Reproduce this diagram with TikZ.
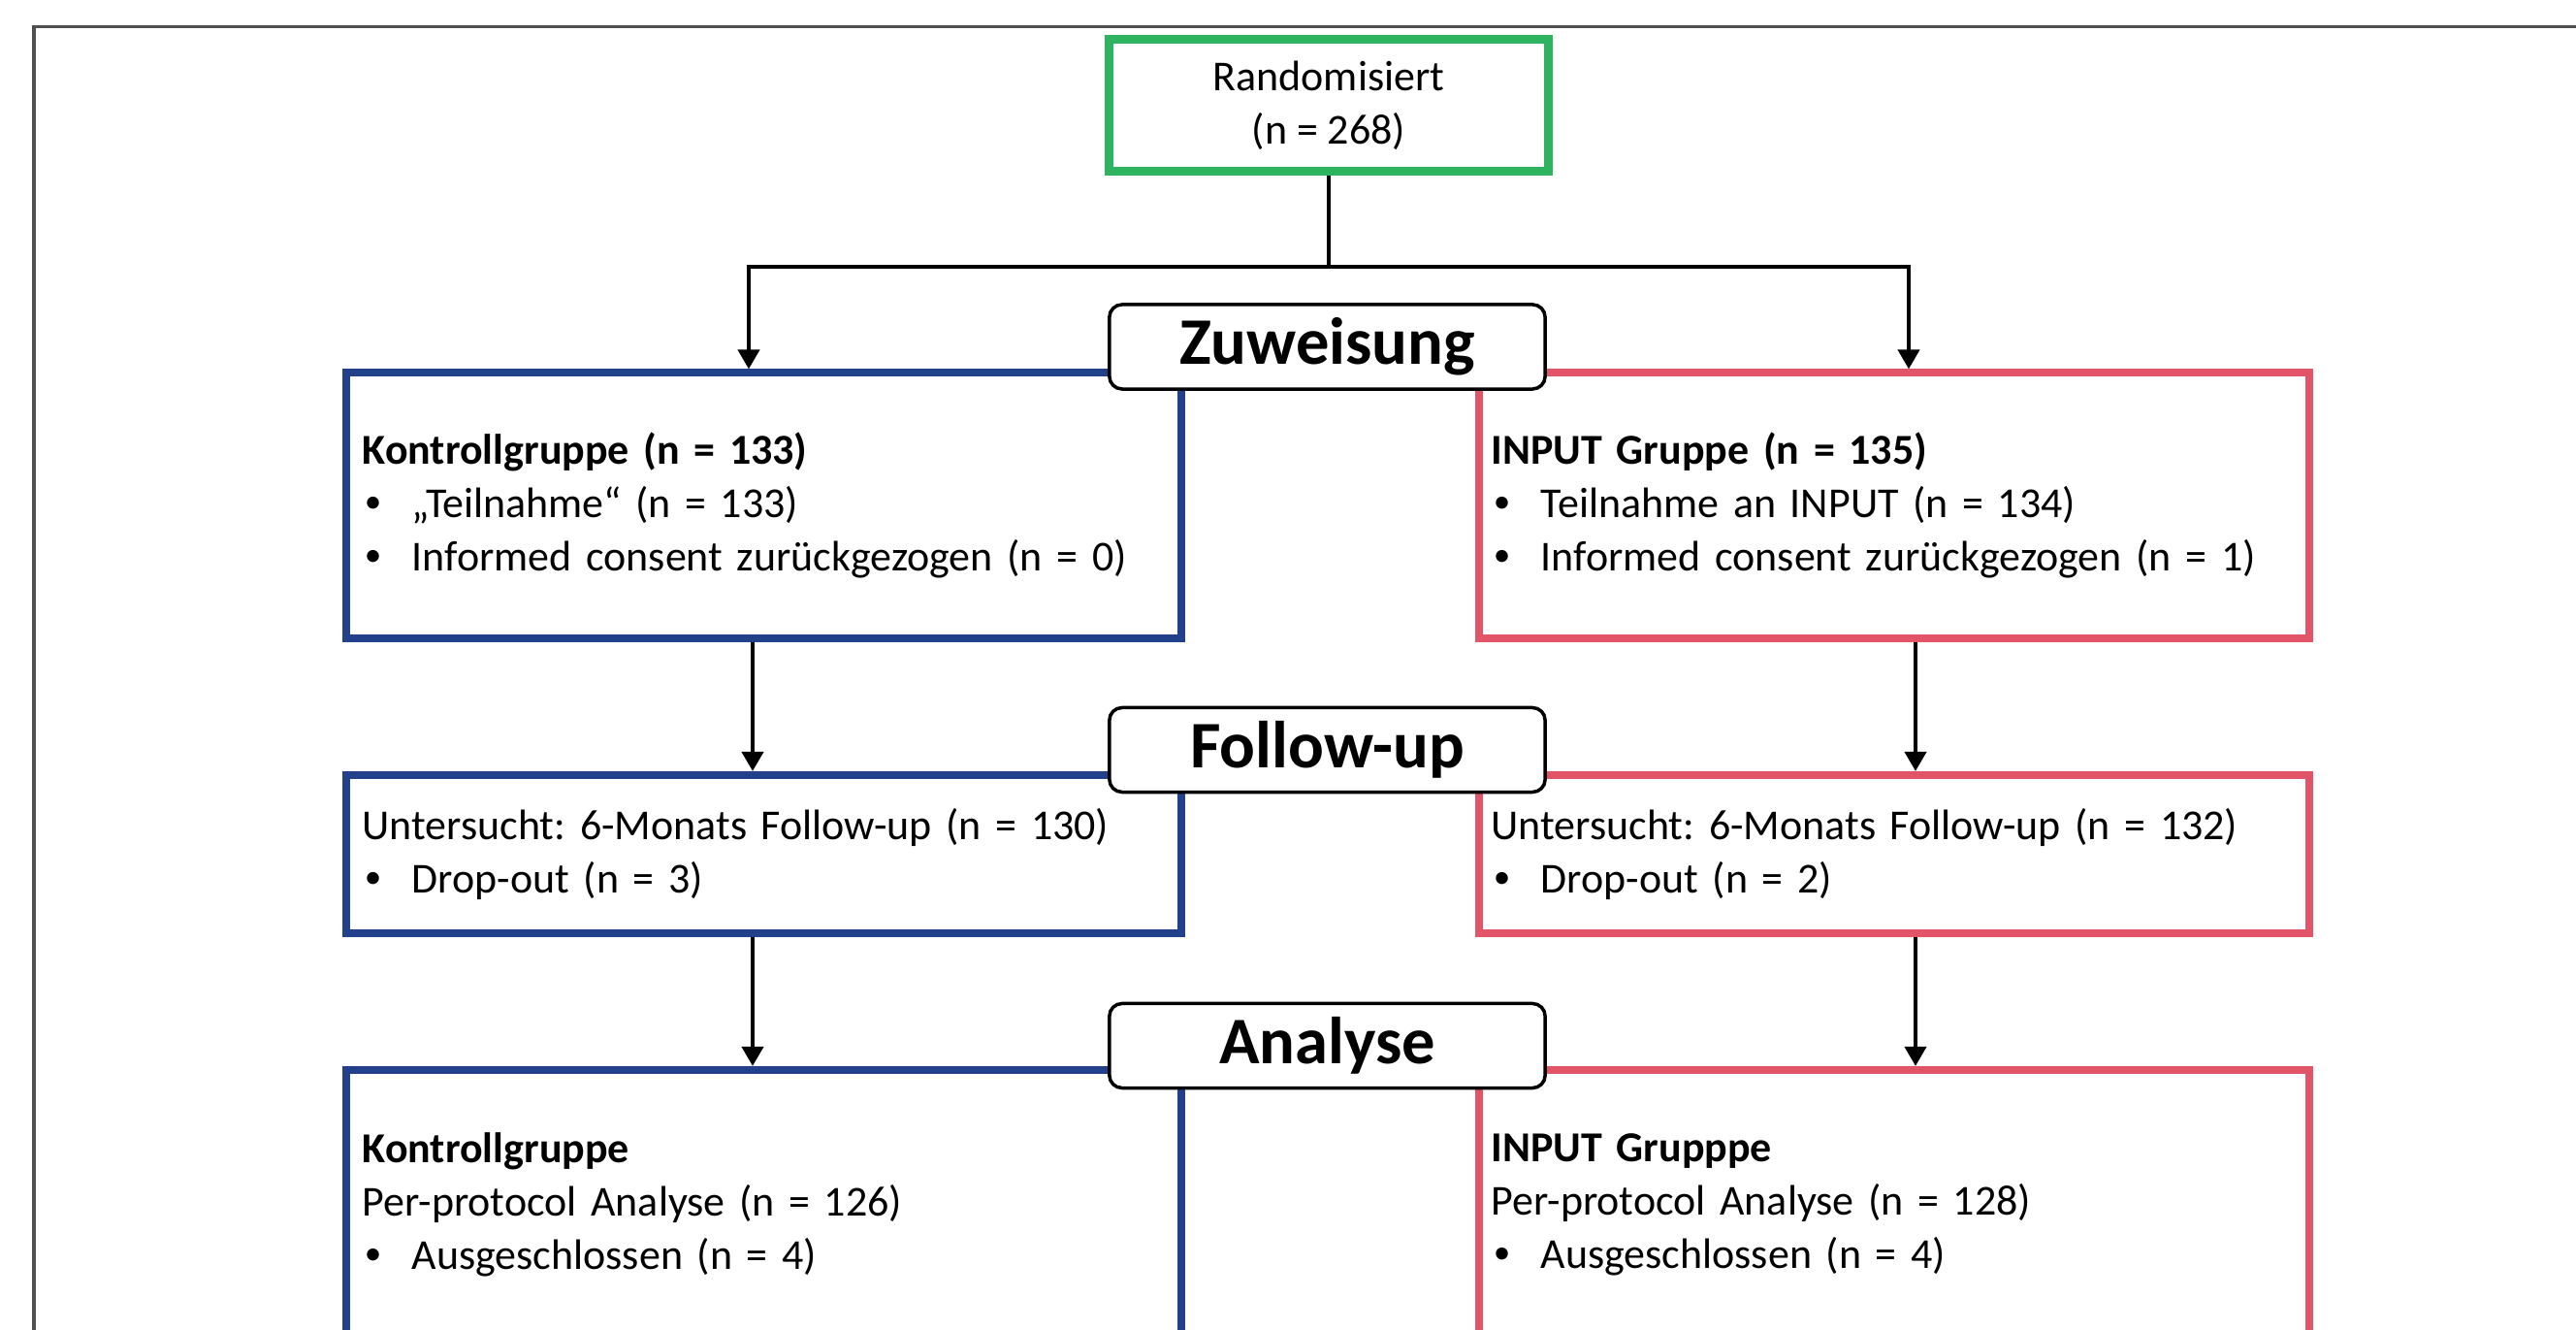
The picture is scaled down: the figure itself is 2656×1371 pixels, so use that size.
\documentclass[tikz,border=0pt]{standalone}
\usepackage{fontspec}
\setmainfont{Carlito}
\usetikzlibrary{arrows.meta}
\definecolor{cgreen}{RGB}{46,180,96}
\definecolor{cblue}{RGB}{35,64,138}
\definecolor{cred}{RGB}{226,84,104}
\definecolor{cframe}{RGB}{80,80,80}
\newcommand{\bul}{\makebox[14.5pt][l]{\hspace{0.6pt}\raisebox{0.25ex}{\fontsize{10}{10}\selectfont\textbullet}}}
\frenchspacing
\begin{document}
\begin{tikzpicture}[x=0.01cm,y=-0.01cm,
  txt/.style={font=\fontsize{12.5}{15.65}\selectfont},
  grpbox/.style={draw, rectangle, line width=0.08cm, txt, align=left, inner ysep=0pt},
  leftbox/.style={grpbox, draw=cblue, inner xsep=0.17cm, text width=8.27cm, minimum width=8.61cm},
  rightbox/.style={grpbox, draw=cred, inner xsep=0.13cm, text width=8.30cm, minimum width=8.56cm},
  labbox/.style={draw=black, line width=0.035cm, rounded corners=0.13cm, fill=white,
    minimum width=4.49cm, minimum height=0.87cm, inner sep=0pt,
    font=\fontsize{19.5}{22}\selectfont\bfseries},
  conn/.style={draw=black, line width=0.04cm},
  arr/.style={conn, -{Triangle[length=0.2cm, width=0.22cm]}}
]
\path[use as bounding box] (0,0) rectangle (2656,1371);
\clip (0,0) rectangle (2656,1371);

% frame
\draw[cframe, line width=0.03cm] (2660,28) -- (35,28) -- (35,1380);

% top box
\node[draw=cgreen, line width=0.09cm, minimum width=4.53cm, minimum height=1.36cm,
  align=center, txt, inner sep=0pt] (rand) at (1370,108.5) {Randomisiert\\(n = 268)};

% group boxes
\node[leftbox, minimum height=2.73cm] (kg1) at (787.5,521)
  {\textbf{Kontrollgruppe (n = 133)}\\\bul„Teilnahme“ (n = 133)\\\bul Informed consent zurückgezogen (n = 0)};
\node[rightbox, minimum height=2.73cm] (ig1) at (1953,521)
  {\textbf{INPUT Gruppe (n = 135)}\\\bul Teilnahme an INPUT (n = 134)\\\bul Informed consent zurückgezogen (n = 1)};

\node[leftbox, minimum height=1.63cm] (kg2) at (787.5,880.5)
  {Untersucht: 6-Monats Follow-up (n = 130)\\\bul Drop-out (n = 3)};
\node[rightbox, minimum height=1.63cm] (ig2) at (1953,880.5)
  {Untersucht: 6-Monats Follow-up (n = 132)\\\bul Drop-out (n = 2)};

\node[leftbox, minimum height=2.78cm] (kg3) at (787.5,1242)
  {\textbf{Kontrollgruppe}\\Per-protocol Analyse (n = 126)\\\bul Ausgeschlossen (n = 4)};
\node[rightbox, minimum height=2.78cm] (ig3) at (1953,1242)
  {\textbf{INPUT Grupppe}\\Per-protocol Analyse (n = 128)\\\bul Ausgeschlossen (n = 4)};

% connector coordinates
\coordinate (split) at (1370,275);
\coordinate (xl1) at (772,275);
\coordinate (xr1) at (1968,275);
\coordinate (xl2) at (776,0);
\coordinate (xr2) at (1975,0);

% connectors
\draw[conn] (rand.south) -- (split);
\draw[arr] (split) -| (xl1 |- kg1.north);
\draw[arr] (split) -| (xr1 |- ig1.north);
\draw[arr] (xl2 |- kg1.south) -- (xl2 |- kg2.north);
\draw[arr] (xr2 |- ig1.south) -- (xr2 |- ig2.north);
\draw[arr] (xl2 |- kg2.south) -- (xl2 |- kg3.north);
\draw[arr] (xr2 |- ig2.south) -- (xr2 |- ig3.north);

% phase labels
\node[labbox] (zuw) at (1368.5,357.5) {Zuweisung};
\node[labbox] (fol) at (1368.5,773) {Follow-up};
\node[labbox] (ana) at (1368.5,1078) {Analyse};
\end{tikzpicture}
\end{document}
